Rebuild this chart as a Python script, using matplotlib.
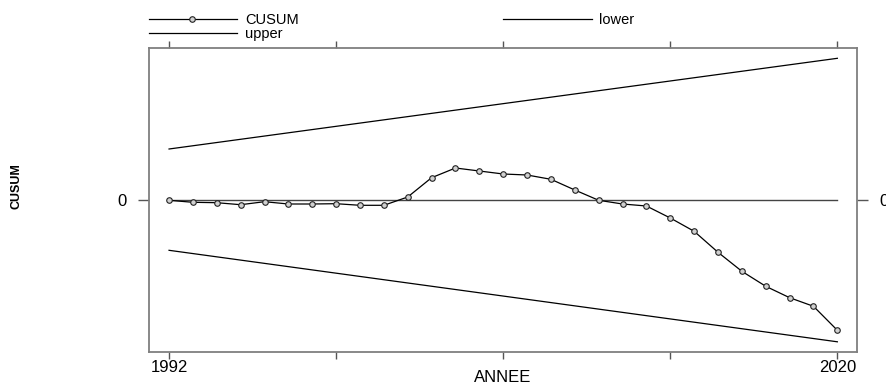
import matplotlib
matplotlib.use("Agg")
import matplotlib.pyplot as plt
import numpy as np

years = list(range(1992, 2021))
cusum = [0.0, -0.2, -0.24, -0.44, -0.14, -0.37, -0.37, -0.34, -0.5, -0.5,
         0.33, 2.26, 3.23, 2.93, 2.63, 2.53, 2.1, 1.03, 0.0, -0.37,
         -0.57, -1.77, -3.1, -5.2, -7.1, -8.6, -9.74, -10.6, -13.0]
bound_years = [1992, 2020]
upper = [5.13, 14.2]
lower = [-5.0, -14.15]
xticks = [1992, 1999, 2006, 2013, 2020]
xticklabels = ["1992", "", "", "", "2020"]

plt.rcParams['font.family'] = ['Liberation Sans', 'DejaVu Sans']
FS = 12
LFS = 10.5

fig = plt.figure(figsize=(8.87, 3.84), dpi=100)
ax = fig.add_axes([149/887, 1-351.7/384, (856.7-149)/887, (351.7-47.7)/384])

ax.plot([years[0], years[-1]], [0, 0], color='#444444', lw=1.0, zorder=1)
ax.plot(years, cusum, color='black', lw=0.9, marker='o', ms=4.0,
        mfc='#d0d0d0', mec='#222222', mew=0.8, zorder=3)
ax.plot(bound_years, upper, color='black', lw=0.9)
ax.plot(bound_years, lower, color='black', lw=0.9)

ax.set_xlim(1991.16, 2020.81)
ax.set_ylim(-15.14, 15.26)

for s in ax.spines.values():
    s.set_color('#7f7f7f')
    s.set_linewidth(1.3)

ax.set_xticks(xticks)
ax.set_xticklabels(xticklabels, fontsize=FS)
ax.set_yticks([0])
ax.set_yticklabels(["0"], fontsize=FS)
ax.tick_params(axis='x', which='both', direction='out', length=5,
               width=1.0, color='#555555', top=True, labeltop=False, pad=1)
ax.tick_params(axis='y', which='both', direction='out', length=8,
               width=1.0, color='#555555', right=True, labelright=True, pad=8)

def fx(px):
    return px/887
def fy(py):
    return 1-py/384

fig.text(fx(503), fy(377), "ANNEE", fontsize=FS, ha='center', va='center')

# y label (narrow, bold)
fig.text(fx(17), fy(186), "CUSUM", rotation=90, ha='center', va='center',
         fontsize=9, fontweight='bold',
         family=['Liberation Sans Narrow', 'Liberation Sans', 'DejaVu Sans'])

# legend at top
fig.add_artist(plt.Line2D([fx(149), fx(237)], [fy(19), fy(19)], color='black', lw=0.9))
fig.add_artist(plt.Line2D([fx(192)], [fy(19)], marker='o', ms=4.0, mfc='#d0d0d0',
                          mec='#222222', mew=0.8, lw=0))
fig.text(fx(245), fy(24), "CUSUM", fontsize=LFS, va='baseline', ha='left')
fig.add_artist(plt.Line2D([fx(149), fx(237)], [fy(33), fy(33)], color='black', lw=0.9))
fig.text(fx(245), fy(38), "upper", fontsize=LFS, va='baseline', ha='left')
fig.add_artist(plt.Line2D([fx(503), fx(592)], [fy(19), fy(19)], color='black', lw=0.9))
fig.text(fx(599), fy(24), "lower", fontsize=LFS, va='baseline', ha='left')

fig.savefig("out.png", dpi=100)
